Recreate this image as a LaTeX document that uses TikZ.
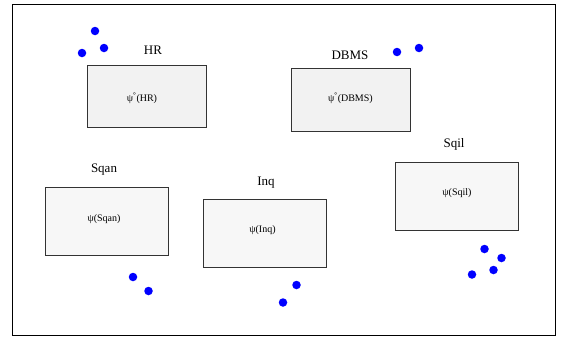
\documentclass[tikz,border=0pt]{standalone}
\usepackage{fontspec}
\setmainfont{Liberation Serif}
\begin{document}
\begin{tikzpicture}[x=1pt,y=-1pt,
  comp/.style={draw=black!80, line width=0.8pt, fill=#1},
  comp/.default={black!5},
  title/.style={font=\fontsize{13}{15}\selectfont},
  inner/.style={font=\fontsize{10}{12}\selectfont},
  dot/.style={circle, fill=blue, inner sep=0pt, minimum size=8.5pt}]
\useasboundingbox (0,0) rectangle (563,340);
\draw[line width=0.9pt] (12.5,4) rectangle (555.5,335);
% HR
\draw[comp] (87.5,65.5) rectangle (206.5,127.5);
\node[inner] (hr) at (142,98) {ψ\textsuperscript{\textbf{°}}(HR)};
\node[title] (hrl) at (153,50) {HR};
\node[dot] (d1) at (95,31) {};
\node[dot] (d2) at (104,48) {};
\node[dot] (d3) at (82,53) {};
% DBMS
\draw[comp] (291.5,68.5) rectangle (410,131);
\node[inner] (db) at (350.5,98.5) {ψ\textsuperscript{\textbf{°}}(DBMS)};
\node[title] (dbl) at (350,55) {DBMS};
\node[dot] (d4) at (397,52) {};
\node[dot] (d5) at (419,48) {};
% Sqan
\draw[comp=black!3] (45,187.5) rectangle (168.5,255.5);
\node[inner] (sq) at (104,219) {ψ(Sqan)};
\node[title] (sql) at (104,170) {Sqan};
\node[dot] (d6) at (133,277) {};
\node[dot] (d7) at (148.5,291) {};
% Inq
\draw[comp=black!3] (203.5,199) rectangle (326.5,267.5);
\node[inner] (iq) at (262.5,230) {ψ(Inq)};
\node[title] (iql) at (266,183) {Inq};
\node[dot] (d8) at (296.5,285) {};
\node[dot] (d9) at (283,302.5) {};
% Sqil
\draw[comp=black!3] (395,162) rectangle (518.5,230);
\node[inner] (si) at (457,193) {ψ(Sqil)};
\node[title] (sil) at (454,144) {Sqil};
\node[dot] (d10) at (484.5,249) {};
\node[dot] (d11) at (501.5,258) {};
\node[dot] (d12) at (493.5,270) {};
\node[dot] (d13) at (472,274.5) {};
\end{tikzpicture}
\end{document}
